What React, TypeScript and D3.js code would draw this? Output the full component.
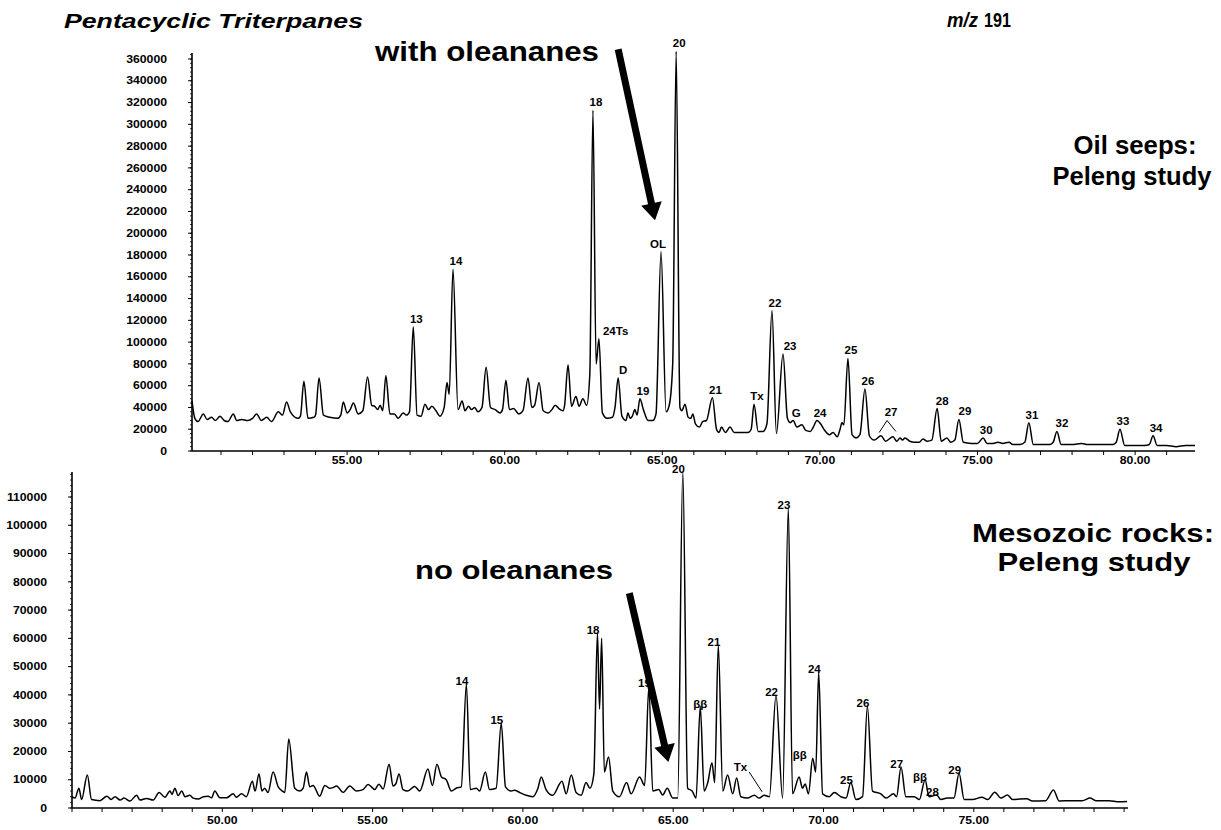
import React from 'react';
import * as d3 from 'd3';

// m/z 191 traces: [retention time (min), abundance (thousands of counts)]
const oilTrace: [number, number][] = [
  [50.08, 46], [50.17, 30], [50.27, 27], [50.44, 34], [50.56, 29], [50.7, 31], [50.82, 28], [50.97, 32],
  [51.1, 28], [51.22, 27], [51.39, 34], [51.5, 28], [51.65, 29], [51.85, 28], [52.0, 30], [52.13, 34],
  [52.28, 28], [52.45, 31], [52.6, 27], [52.82, 36], [52.95, 33], [53.08, 45], [53.2, 36], [53.45, 30],
  [53.52, 32], [53.63, 64], [53.76, 30], [53.95, 31], [54.0, 33], [54.11, 67], [54.25, 33], [54.45, 31],
  [54.7, 30], [54.8, 33], [54.88, 45], [55.0, 35], [55.1, 38], [55.2, 44], [55.35, 34], [55.5, 37],
  [55.65, 68], [55.78, 42], [55.88, 41], [55.97, 38], [56.05, 42], [56.13, 37], [56.23, 69], [56.36, 34],
  [56.5, 34], [56.62, 30], [56.78, 35], [56.88, 33], [56.98, 36], [57.1, 114], [57.22, 33], [57.35, 32],
  [57.47, 43], [57.58, 38], [57.69, 41], [57.82, 37], [57.95, 32], [58.08, 40], [58.17, 63], [58.24, 52],
  [58.36, 167], [58.52, 38], [58.65, 46], [58.74, 37], [58.85, 41], [58.95, 38], [59.05, 40], [59.15, 36],
  [59.28, 40], [59.41, 77], [59.55, 40], [59.7, 38], [59.85, 35], [59.93, 38], [60.04, 65], [60.15, 38],
  [60.28, 39], [60.45, 34], [60.58, 37], [60.74, 67], [60.86, 40], [60.95, 42], [61.09, 63], [61.22, 37],
  [61.38, 35], [61.5, 38], [61.6, 42], [61.72, 39], [61.85, 37], [61.9, 42], [62.01, 79], [62.12, 41],
  [62.26, 50], [62.36, 41], [62.48, 48], [62.6, 42], [62.7, 70], [62.8, 313], [62.9, 80], [62.99, 103],
  [63.1, 35], [63.25, 30], [63.42, 31], [63.5, 40], [63.6, 67], [63.72, 32], [63.85, 28], [63.91, 35],
  [63.98, 30], [64.05, 32], [64.13, 38], [64.2, 33], [64.29, 48], [64.4, 38], [64.55, 28], [64.7, 28],
  [64.8, 34], [64.96, 183], [65.12, 36], [65.22, 42], [65.33, 80], [65.44, 367], [65.56, 40], [65.62, 37],
  [65.72, 43], [65.82, 31], [65.9, 30], [65.97, 34], [66.05, 25], [66.18, 22], [66.28, 27], [66.4, 28],
  [66.59, 49], [66.72, 20], [66.8, 17], [66.88, 22], [67.0, 17], [67.15, 22], [67.28, 17], [67.5, 17],
  [67.72, 17], [67.82, 20], [67.91, 43], [68.04, 18], [68.2, 18], [68.32, 25], [68.48, 129], [68.62, 16],
  [68.83, 89], [68.97, 30], [69.06, 26], [69.15, 28], [69.27, 22], [69.43, 24], [69.55, 19], [69.7, 18],
  [69.79, 22], [69.91, 28], [70.02, 25], [70.15, 19], [70.3, 15], [70.42, 17], [70.55, 13], [70.64, 20],
  [70.7, 26], [70.76, 24], [70.89, 85], [71.02, 15], [71.15, 12], [71.27, 15], [71.43, 57], [71.57, 14],
  [71.72, 10], [71.94, 14], [72.08, 9], [72.32, 13], [72.44, 9], [72.54, 12], [72.62, 10], [72.7, 12],
  [72.85, 9], [73.0, 8], [73.15, 8], [73.27, 11], [73.4, 9], [73.55, 10], [73.72, 39], [73.85, 9],
  [74.03, 12], [74.15, 8], [74.28, 10], [74.41, 29], [74.55, 8], [74.8, 7], [75.0, 7], [75.18, 12],
  [75.3, 7], [75.5, 7], [75.65, 8], [75.8, 7], [76.0, 8], [76.12, 6], [76.35, 6], [76.5, 8],
  [76.63, 26], [76.77, 6], [77.0, 6], [77.3, 6], [77.4, 8], [77.52, 18], [77.65, 6], [78.0, 6],
  [78.3, 7], [78.5, 6], [79.0, 6], [79.3, 6], [79.4, 8], [79.52, 20], [79.67, 5], [80.0, 5],
  [80.3, 5], [80.45, 6], [80.57, 14], [80.7, 5], [81.0, 5], [81.3, 4], [81.6, 5], [81.9, 5],
];

const rockTrace: [number, number][] = [
  [45.0, 4], [45.1, 3.5], [45.23, 7], [45.32, 3], [45.51, 11.7], [45.65, 3], [45.93, 2.6], [46.16, 4.2],
  [46.3, 3], [46.43, 4], [46.6, 2.8], [46.73, 3.5], [46.93, 2.5], [47.15, 4.5], [47.26, 2.8], [47.48, 3.4],
  [47.7, 2.8], [47.9, 5.5], [48.09, 3.8], [48.26, 6], [48.33, 4.8], [48.42, 7], [48.53, 4.4], [48.65, 6],
  [48.76, 4], [48.92, 4.5], [49.03, 3.5], [49.2, 3.2], [49.37, 4], [49.53, 4.2], [49.64, 3.6], [49.75, 6],
  [49.92, 3.6], [50.14, 3.6], [50.36, 5], [50.47, 3.8], [50.64, 5], [50.8, 4], [51.0, 9.5], [51.09, 6],
  [51.22, 12], [51.32, 6], [51.41, 7], [51.52, 5.5], [51.69, 12.7], [51.86, 7.5], [52.0, 6], [52.08, 5.5],
  [52.21, 24.4], [52.41, 7], [52.58, 6], [52.69, 7], [52.8, 12.7], [52.91, 7.5], [53.02, 8], [53.24, 4.2],
  [53.41, 8], [53.57, 7], [53.68, 7.2], [53.8, 7.8], [54.02, 5.5], [54.24, 7.8], [54.46, 6], [54.68, 6.5],
  [54.85, 8.3], [54.96, 7.5], [55.07, 6.5], [55.21, 8.4], [55.35, 6.7], [55.55, 15.5], [55.68, 7.8], [55.77, 8.5],
  [55.88, 12], [56.01, 6.5], [56.17, 6], [56.4, 7.6], [56.57, 6], [56.84, 13.8], [56.99, 8], [57.14, 15.5],
  [57.29, 11], [57.45, 10], [57.62, 6], [57.78, 7], [57.95, 7.5], [58.12, 43.8], [58.25, 6.5], [58.45, 7],
  [58.56, 6], [58.75, 12.7], [58.89, 6.5], [59.11, 7], [59.28, 30], [59.42, 7.5], [59.61, 6], [59.72, 6.3],
  [59.89, 5.5], [60.11, 4.5], [60.33, 4], [60.5, 7], [60.61, 11], [60.77, 6.5], [60.99, 4.5], [61.3, 9.5],
  [61.44, 5], [61.61, 11.7], [61.77, 5.5], [61.94, 4.5], [62.1, 9], [62.23, 7], [62.36, 12], [62.48, 62],
  [62.55, 35], [62.62, 60], [62.71, 12.7], [62.85, 18], [62.99, 6], [63.21, 4], [63.45, 9], [63.6, 5],
  [63.88, 11], [64.05, 8], [64.19, 43], [64.32, 6], [64.52, 6.5], [64.65, 4.6], [64.8, 7], [64.99, 3.5],
  [65.15, 3.5], [65.32, 119], [65.48, 7], [65.63, 6], [65.76, 3.5], [65.9, 36], [66.03, 6], [66.15, 9],
  [66.29, 16], [66.38, 9], [66.5, 57.6], [66.65, 6], [66.81, 11.7], [66.98, 5], [67.11, 10.6], [67.25, 4],
  [67.47, 3.5], [67.7, 4.5], [67.86, 3.5], [68.03, 4.5], [68.2, 4], [68.42, 40], [68.64, 3.5], [68.83, 106],
  [68.97, 5], [69.19, 11], [69.3, 7], [69.39, 8.5], [69.5, 5], [69.64, 17.6], [69.74, 12.7], [69.84, 48],
  [69.97, 5], [70.19, 4], [70.36, 5.5], [70.58, 4], [70.75, 3.5], [70.91, 9], [71.08, 3], [71.3, 4],
  [71.46, 36], [71.63, 6], [71.91, 5], [72.08, 3.5], [72.33, 5], [72.43, 4], [72.58, 14.5], [72.74, 4],
  [73.02, 4], [73.19, 3], [73.38, 10], [73.51, 4], [73.77, 4.6], [73.9, 3], [74.12, 3.5], [74.34, 3.5],
  [74.51, 12.3], [74.68, 3], [74.96, 3], [75.27, 3.8], [75.46, 3], [75.7, 5.6], [75.9, 3.5], [76.12, 4.6],
  [76.29, 3], [76.76, 3.3], [76.95, 2.5], [77.39, 2.6], [77.65, 6.4], [77.84, 2.5], [78.28, 2.6], [78.61, 2.6],
  [78.87, 3.5], [79.06, 2.6], [79.5, 2.6], [79.83, 2.2], [80.1, 2.3],
];

// peak labels: [label, retention time]
const oilPeakLabels: [string, number][] = [
  ['13', 57.1], ['14', 58.36], ['18', 62.8], ['24Ts', 62.99], ['D', 63.6], ['19', 64.29], ['OL', 64.96],
  ['20', 65.44], ['21', 66.59], ['Tx', 67.91], ['22', 68.48], ['23', 68.83], ['G', 69.15], ['24', 69.91],
  ['25', 70.89], ['26', 71.43], ['28', 73.72], ['29', 74.41], ['30', 75.18], ['31', 76.63], ['32', 77.52],
  ['33', 79.52], ['34', 80.57],
];
const rockPeakLabels: [string, number][] = [
  ['14', 58.12], ['15', 59.28], ['18', 62.48], ['19', 64.19], ['20', 65.32], ['ββ', 65.9], ['21', 66.5],
  ['22', 68.42], ['23', 68.83], ['ββ', 69.64], ['24', 69.84], ['25', 70.91], ['26', 71.46], ['27', 72.58],
  ['ββ', 73.38], ['28', 73.77], ['29', 74.51],
];
// bracket for the unresolved peak 27 (top) and leader for Tx (bottom): [time, abundance k]
const oilBracket27: [number, number][] = [[71.88, 17], [72.13, 28], [72.41, 18]];
const rockTxLeader: [number, number][] = [[67.53, 12.7], [67.96, 5.7]];
// arrows pointing at the oleanane position: [start, tip]
const oilArrow: [number, number][] = [[63.6, 369], [64.77, 212]];
const rockArrow: [number, number][] = [[63.54, 76], [64.84, 16.3]];

const oilYTicks = [0, 20000, 40000, 60000, 80000, 100000, 120000, 140000, 160000, 180000, 200000,
  220000, 240000, 260000, 280000, 300000, 320000, 340000, 360000];
const rockYTicks = [0, 10000, 20000, 30000, 40000, 50000, 60000, 70000, 80000, 90000, 100000, 110000];
const oilXTicks = [55, 60, 65, 70, 75, 80];
const rockXTicks = [50, 55, 60, 65, 70, 75];

const FONT = 'Liberation Sans, Arial, Helvetica, sans-serif';

const peakTop = (trace: [number, number][], t: number) => {
  const near = trace.filter((d) => Math.abs(d[0] - t) < 0.03);
  return near.length ? d3.max(near, (d) => d[1])! : 0;
};

const Stretch = ({ x, y, size = 10, anchor = 'middle', sx = 1.15, children }: any) => (
  <text transform={`translate(${x},${y}) scale(${sx},1)`} textAnchor={anchor}
    fontSize={size} fontWeight="bold" fontFamily={FONT}>{children}</text>
);

const arrowPath = (p0: [number, number], p1: [number, number], half = 3.5, headLen = 17, headHalf = 10.5) => {
  const dx = p1[0] - p0[0], dy = p1[1] - p0[1];
  const L = Math.hypot(dx, dy);
  const ux = dx / L, uy = dy / L, nx = -uy, ny = ux;
  const bx = p1[0] - ux * headLen, by = p1[1] - uy * headLen;
  const pts = [
    [p0[0] + nx * half, p0[1] + ny * half], [bx + nx * half, by + ny * half], [bx + nx * headHalf, by + ny * headHalf],
    p1, [bx - nx * headHalf, by - ny * headHalf], [bx - nx * half, by - ny * half], [p0[0] - nx * half, p0[1] - ny * half],
  ];
  return 'M' + pts.map((p) => p.join(',')).join('L') + 'Z';
};

type PanelProps = {
  trace: [number, number][];
  xDomain: [number, number]; xRange: [number, number];
  yDomain: [number, number]; yRange: [number, number];
  axisTop: number; xTicks: number[]; yTicks: number[]; yMinor: number;
  xLabelDy: number;
};

const Axes = ({ xs, ys, p }: any) => {
  const [x0, x1] = p.xRange;
  const y0 = p.yRange[0];
  const minutes = d3.range(Math.ceil(p.xDomain[0]), Math.floor(p.xDomain[1]) + 1);
  const minor = d3.range(0, ys.invert(p.axisTop), p.yMinor);
  return (
    <g stroke="#000" fill="none">
      <line x1={x0} x2={x1} y1={y0} y2={y0} strokeWidth={1.6} />
      <line x1={x0} x2={x0} y1={y0} y2={p.axisTop} strokeWidth={1.6} />
      {minutes.map((m) => <line key={m} x1={xs(m)} x2={xs(m)} y1={y0} y2={y0 + 4} strokeWidth={1} />)}
      {minor.map((v) => <line key={v} x1={x0 - 2} x2={x0} y1={ys(v)} y2={ys(v)} strokeWidth={0.8} />)}
      {p.yTicks.map((v: number) => <line key={v} x1={x0 - 4} x2={x0} y1={ys(v / 1000)} y2={ys(v / 1000)} strokeWidth={1} />)}
      <g stroke="none" fill="#000">
        {p.yTicks.map((v: number) => (
          <Stretch key={v} x={x0 - 25} y={ys(v / 1000) + 3.7} anchor="end" size={10.2} sx={1.2}>{v}</Stretch>
        ))}
        {p.xTicks.map((t: number) => (
          <Stretch key={t} x={xs(t)} y={y0 + p.xLabelDy} size={10.2} sx={1.2}>{t.toFixed(2)}</Stretch>
        ))}
      </g>
    </g>
  );
};

const oilPanel: PanelProps = {
  trace: oilTrace, xDomain: [50.08, 81.9], xRange: [192, 1195], yDomain: [0, 360], yRange: [451, 59],
  axisTop: 53, xTicks: oilXTicks, yTicks: oilYTicks, yMinor: 4, xLabelDy: 13,
};
const rockPanel: PanelProps = {
  trace: rockTrace, xDomain: [45.0, 80.13], xRange: [72, 1128], yDomain: [0, 110], yRange: [808, 497],
  axisTop: 472, xTicks: rockXTicks, yTicks: rockYTicks, yMinor: 2, xLabelDy: 16,
};

const Chromatogram = ({ p, kind }: { p: PanelProps; kind: 'oil' | 'rock' }) => {
  const xs = d3.scaleLinear().domain(p.xDomain).range(p.xRange);
  const ys = d3.scaleLinear().domain(p.yDomain).range(p.yRange);
  const line = d3.line<[number, number]>().x((d) => xs(d[0])).y((d) => ys(d[1])).curve(d3.curveMonotoneX);
  const P = (d: [number, number]): [number, number] => [xs(d[0]), ys(d[1])];

  return (
    <g>
      <Axes xs={xs} ys={ys} p={p} />
      <path d={line(p.trace)!} fill="none" stroke="#000" strokeWidth={1.5} strokeLinejoin="round" />
      {kind === 'oil' ? (
        <g>
          {oilPeakLabels.map(([lab, t], i) => {
            const v = peakTop(p.trace, t);
            const nudge: Record<string, number> = { OL: -6, '23': 4, D: 2, '28': 2, '29': 3, '32': 2 };
            const start = lab === '24Ts';
            return (
              <Stretch key={i} x={xs(t) + (start ? 4 : 3 + (nudge[lab] || 0))} y={ys(v) - 4}
                anchor={start ? 'start' : 'middle'}>{lab}</Stretch>
            );
          })}
          <path d={d3.line()(oilBracket27.map(P))!} fill="none" stroke="#000" strokeWidth={1} />
          <Stretch x={P(oilBracket27[1])[0] + 4} y={P(oilBracket27[1])[1] - 5}>27</Stretch>
          <path d={arrowPath(P(oilArrow[0]), P(oilArrow[1]))} fill="#000" />
        </g>
      ) : (
        <g>
          {rockPeakLabels.map(([lab, t], i) => {
            const v = peakTop(p.trace, t);
            if (lab === 'ββ' && i === 5) {
              return <Stretch key={i} x={xs(t)} y={ys(v) + 2}>{lab}</Stretch>;
            }
            const dx = lab === 'ββ' && i === 9 ? -6 : 2;
            return <Stretch key={i} x={xs(t) + dx} y={ys(v) + 1} anchor="end">{lab}</Stretch>;
          })}
          <path d={d3.line()(rockTxLeader.map(P))!} fill="none" stroke="#000" strokeWidth={1} />
          <Stretch x={P(rockTxLeader[0])[0] - 2} y={P(rockTxLeader[0])[1] - 1} anchor="end">Tx</Stretch>
          <path d={arrowPath(P(rockArrow[0]), P(rockArrow[1]))} fill="#000" />
        </g>
      )}
    </g>
  );
};

const Big = ({ x, y, size, len, anchor = 'start', italic = false, children }: any) => (
  <text x={x} y={y} fontSize={size} fontWeight="bold" fontStyle={italic ? 'italic' : 'normal'}
    fontFamily={FONT} textAnchor={anchor} textLength={len} lengthAdjust="spacingAndGlyphs">{children}</text>
);

export default function App() {
  return (
    <svg width={1221} height={830} style={{ position: 'absolute', left: 0, top: 0, background: '#fff' }}>
      <rect width={1221} height={830} fill="#fff" />
      <Big x={64} y={28} size={21} len={299} italic>Pentacyclic Triterpanes</Big>
      <Big x={947} y={27} size={20} len={31} italic>m/z</Big>
      <Big x={984} y={27} size={20} len={27}>191</Big>
      <Big x={375} y={61} size={28} len={224}>with oleananes</Big>
      <Big x={1135} y={154} size={26} len={123} anchor="middle">Oil seeps:</Big>
      <Big x={1132} y={185} size={26} len={159} anchor="middle">Peleng study</Big>
      <Big x={1093} y={542} size={26} len={242} anchor="middle">Mesozoic rocks:</Big>
      <Big x={1094} y={571} size={26} len={193} anchor="middle">Peleng study</Big>
      <Big x={415} y={579} size={25} len={198}>no oleananes</Big>
      <Chromatogram p={oilPanel} kind="oil" />
      <Chromatogram p={rockPanel} kind="rock" />
    </svg>
  );
}
